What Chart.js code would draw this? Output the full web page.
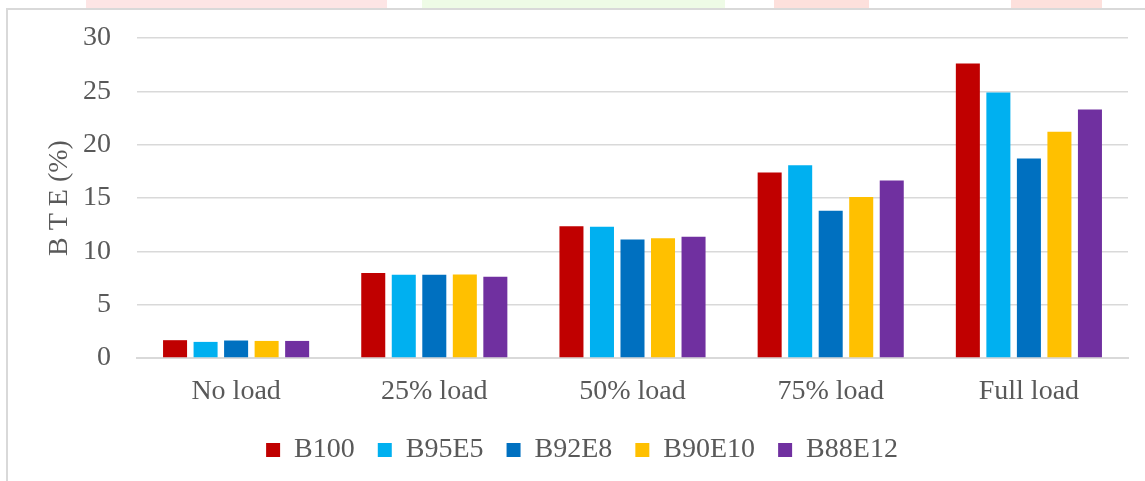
<!DOCTYPE html>
<html><head><meta charset="utf-8">
<script src="https://cdn.jsdelivr.net/npm/chart.js@4.4.0/dist/chart.umd.min.js"></script>
<style>
html,body{margin:0;padding:0;background:#fff;overflow:hidden;}
#wrap{position:relative;width:1145px;height:481px;overflow:hidden;}
.frame{position:absolute;left:6px;top:8px;width:1200px;height:520px;border-left:2px solid #d9d9d9;border-top:2px solid #d9d9d9;}
.wm{position:absolute;top:0;height:8px;}
canvas{position:absolute;left:0;top:0;}
</style></head><body>
<div id="wrap">
<div class="wm" style="left:86px;width:301px;background:#fde5e5"></div>
<div class="wm" style="left:422px;width:303px;background:#eefbe6"></div>
<div class="wm" style="left:774px;width:95px;background:#fde0dc"></div>
<div class="wm" style="left:1011px;width:91px;background:#fde0dc"></div>
<div class="frame"></div>
<canvas id="c" width="1145" height="481"></canvas>
</div>
<script>
const categories = ['No load', '25% load', '50% load', '75% load', 'Full load'];
const seriesNames = ['B100', 'B95E5', 'B92E8', 'B90E10', 'B88E12'];
const b100   = [1.67, 7.96, 12.36, 17.40, 27.60];
const b95e5  = [1.51, 7.80, 12.30, 18.06, 24.90];
const b92e8  = [1.64, 7.80, 11.10, 13.80, 18.70];
const b90e10 = [1.60, 7.83, 11.23, 15.10, 21.20];
const b88e12 = [1.60, 7.61, 11.36, 16.64, 23.30];
const yTicks = [0, 5, 10, 15, 20, 25, 30];
const colors = ['#C00000', '#00B0F0', '#0070C0', '#FFC000', '#7030A0'];
const seriesValues = [b100, b95e5, b92e8, b90e10, b88e12];

const FONT = 'Liberation Serif, Times New Roman, serif';
const TXT = '#595959';

new Chart(document.getElementById('c'), {
  type: 'bar',
  data: {
    labels: categories,
    datasets: seriesNames.map((n, i) => ({
      label: n,
      data: seriesValues[i],
      backgroundColor: colors[i],
      borderWidth: 0,
      categoryPercentage: 0.77,
      barPercentage: 0.787
    }))
  },
  options: {
    responsive: false,
    animation: false,
    devicePixelRatio: 1,
    layout: { padding: { left: 36, right: 17, top: 38, bottom: 7 } },
    plugins: {
      tooltip: { enabled: false },
      legend: {
        position: 'bottom',
        labels: {
          font: { family: FONT, size: 28 },
          color: TXT,
          boxWidth: 14,
          boxHeight: 14,
          padding: 23
        }
      }
    },
    scales: {
      x: {
        grid: { display: false, drawTicks: false },
        border: { display: true, color: '#d9d9d9', width: 2 },
        ticks: { font: { family: FONT, size: 28 }, color: TXT, padding: 17, maxRotation: 0 },
        afterFit: s => { s.height = 55; s.paddingLeft = 0; s.paddingRight = 0; }
      },
      y: {
        min: 0, max: 30,
        afterBuildTicks: s => { s.ticks = yTicks.map(v => ({ value: v })); },
        grid: { color: '#d9d9d9', lineWidth: 1.5, drawTicks: false },
        border: { display: false },
        ticks: { font: { family: FONT, size: 28 }, color: TXT, padding: 26 },
        title: {
          display: true, text: 'B T E (%)',
          font: { family: FONT, size: 28 }, color: TXT,
          padding: { top: 7, bottom: 0 }
        },
        afterFit: s => { s.width = 101; s.paddingTop = 0; s.paddingBottom = 0; }
      }
    }
  }
});
</script>
</body></html>
